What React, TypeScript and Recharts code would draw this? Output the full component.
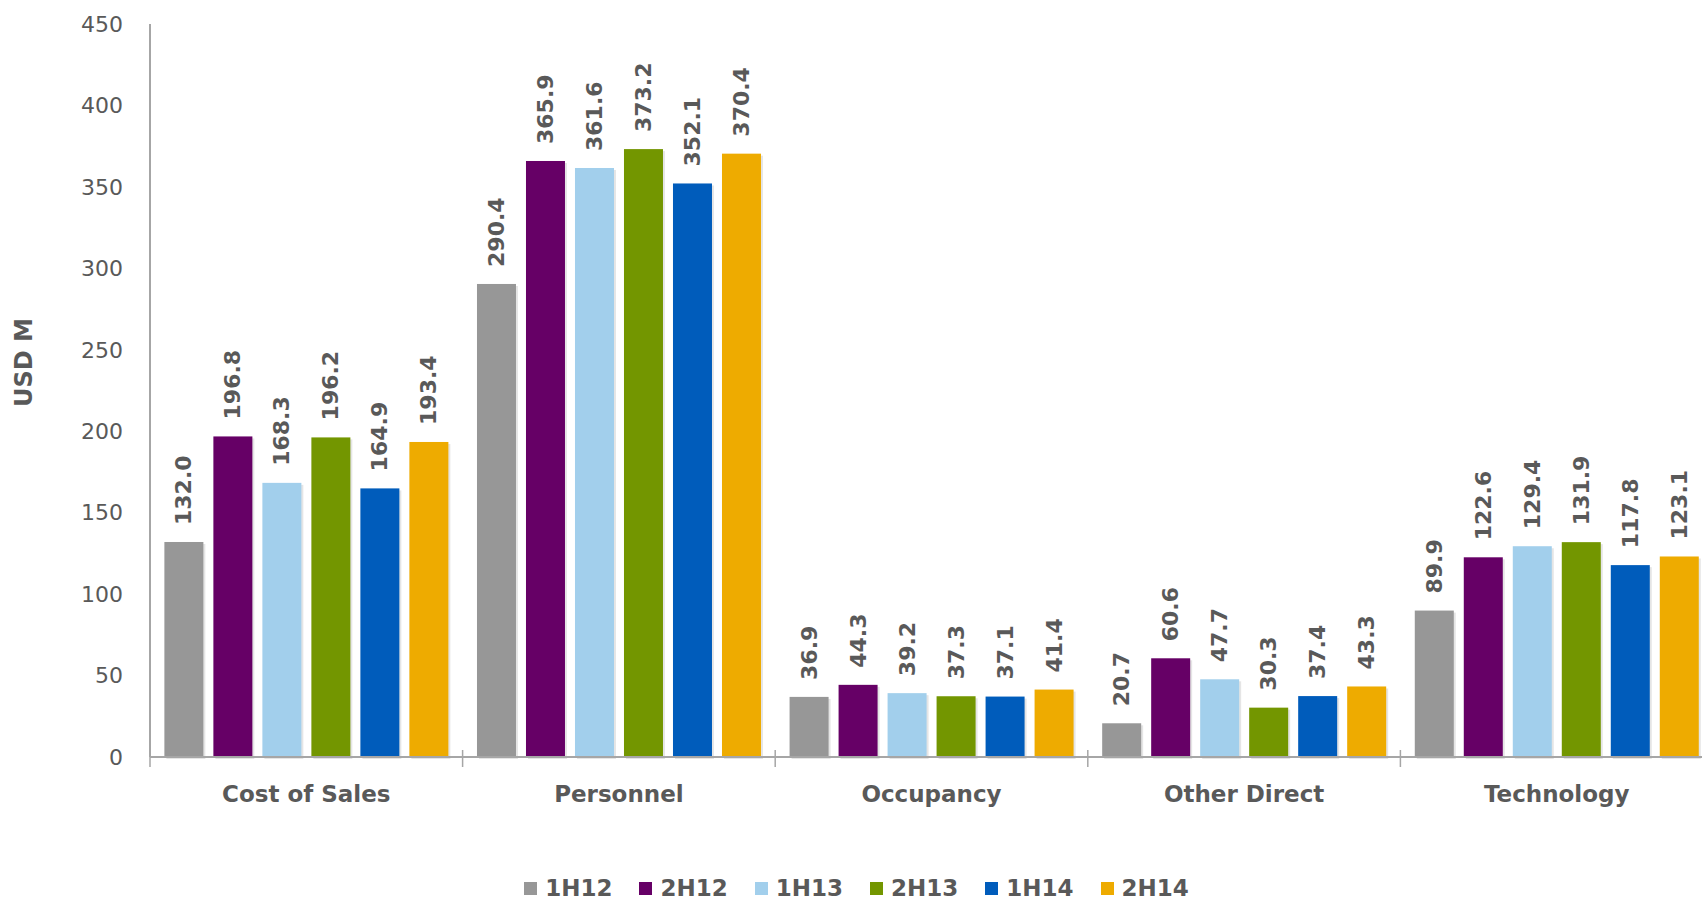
import React from 'react';
import { BarChart, Bar, XAxis, YAxis, Legend, LabelList } from 'recharts';

const categories = ['Cost of Sales', 'Personnel', 'Occupancy', 'Other Direct', 'Technology'];
const periods = ['1H12', '2H12', '1H13', '2H13', '1H14', '2H14'];
const s1H12 = [132.0, 290.4, 36.9, 20.7, 89.9];
const s2H12 = [196.8, 365.9, 44.3, 60.6, 122.6];
const s1H13 = [168.3, 361.6, 39.2, 47.7, 129.4];
const s2H13 = [196.2, 373.2, 37.3, 30.3, 131.9];
const s1H14 = [164.9, 352.1, 37.1, 37.4, 117.8];
const s2H14 = [193.4, 370.4, 41.4, 43.3, 123.1];
const yTicks = [0, 50, 100, 150, 200, 250, 300, 350, 400, 450];
const colors = ['#979797', '#660066', '#A2CFEC', '#739600', '#005CBB', '#EEAB00'];

const seriesValues = [s1H12, s2H12, s1H13, s2H13, s1H14, s2H14];
const data = categories.map((c, i) => {
  const row: Record<string, string | number> = { name: c };
  periods.forEach((p, j) => {
    row[p] = seriesValues[j][i];
  });
  return row;
});

const TEXT = '#595959';
const AXIS = '#A6A6A6';
const FONT = '"DejaVu Sans", Verdana, sans-serif';

const CHART_W = 1720;
const MARGIN_R = 7;
const YAXIS_W = 150;
const LEGEND_H = 30;

const XTick = (props: any) => {
  const { x, y, payload, index, visibleTicksCount } = props;
  const off = payload && typeof payload.offset === 'number' && payload.offset > 0
    ? payload.offset
    : (CHART_W - YAXIS_W - MARGIN_R) / categories.length / 2;
  const count = visibleTicksCount || categories.length;
  return (
    <g>
      <line x1={x - off} x2={x - off} y1={y - 7} y2={y + 10} stroke={AXIS} strokeWidth={1.5} />
      {index === count - 1 && (
        <line x1={x + off} x2={x + off} y1={y - 7} y2={y + 10} stroke={AXIS} strokeWidth={1.5} />
      )}
      <text x={x} y={y + 37} textAnchor="middle" dominantBaseline="central" fill={TEXT}
        fontFamily={FONT} fontWeight="bold" fontSize={23}>
        {payload.value}
      </text>
    </g>
  );
};

const BarLabel = (props: any) => {
  const { x, y, width, value } = props;
  const cx = x + width / 2;
  const cy = y - 17;
  return (
    <text x={cx} y={cy} transform={`rotate(-90, ${cx}, ${cy})`} textAnchor="start"
      dominantBaseline="central" fill={TEXT} fontFamily={FONT} fontWeight="bold" fontSize={22}>
      {Number(value).toFixed(1)}
    </text>
  );
};

const ShadowBar = (props: any) => {
  const { x, y, width, height, fill } = props;
  if (!height || height <= 0) return null;
  return (
    <g>
      <rect x={x + 2} y={y + 2} width={width} height={height} fill="#000" opacity={0.1} />
      <rect x={x} y={y} width={width} height={height} fill={fill} />
    </g>
  );
};

const LegendContent = () => (
  <div style={{ display: 'flex', justifyContent: 'center', alignItems: 'center', height: LEGEND_H,
    boxSizing: 'border-box', paddingTop: 6,
    fontFamily: FONT, fontWeight: 'bold', fontSize: 23, color: TEXT }}>
    {periods.map((p, i) => (
      <div key={p} style={{ display: 'flex', alignItems: 'center', marginRight: i < periods.length - 1 ? 27 : 0 }}>
        <span style={{ display: 'inline-block', width: 13, height: 13, background: colors[i], marginRight: 8 }} />
        <span style={{ lineHeight: '24px' }}>{p}</span>
      </div>
    ))}
  </div>
);

const YLabel = (props: any) => {
  const { viewBox } = props;
  const cx = (viewBox?.x ?? 0) + 24;
  const cy = (viewBox?.y ?? 0) + (viewBox?.height ?? 0) / 2 - 28;
  return (
    <text x={cx} y={cy} transform={`rotate(-90, ${cx}, ${cy})`} textAnchor="middle"
      dominantBaseline="central" fill={TEXT} fontFamily={FONT} fontWeight="bold" fontSize={24}>
      USD M
    </text>
  );
};

export default function App() {
  return (
    <div style={{ position: 'absolute', left: 0, top: 0, width: 1702, height: 900, overflow: 'hidden', background: '#fff' }}>
      <BarChart width={CHART_W} height={900} data={data}
        margin={{ top: 24, right: MARGIN_R, bottom: 0, left: 0 }}
        barCategoryGap="4.6%" barGap={10}>
        <XAxis dataKey="name" height={143 - LEGEND_H} tickSize={0} tickMargin={0}
          axisLine={{ stroke: AXIS, strokeWidth: 2 }} tickLine={false} tick={<XTick />} interval={0} />
        <YAxis width={YAXIS_W} domain={[0, 450]} ticks={yTicks} tickSize={0} tickMargin={27}
          axisLine={{ stroke: AXIS, strokeWidth: 2 }} tickLine={false}
          tick={{ fill: TEXT, fontFamily: FONT, fontSize: 22 }}
          label={<YLabel />} />
        <Legend verticalAlign="bottom" height={LEGEND_H} content={<LegendContent />} />
        {periods.map((p, i) => (
          <Bar key={p} dataKey={p} fill={colors[i]} isAnimationActive={false} shape={<ShadowBar />}>
            <LabelList dataKey={p} content={<BarLabel />} />
          </Bar>
        ))}
      </BarChart>
    </div>
  );
}
